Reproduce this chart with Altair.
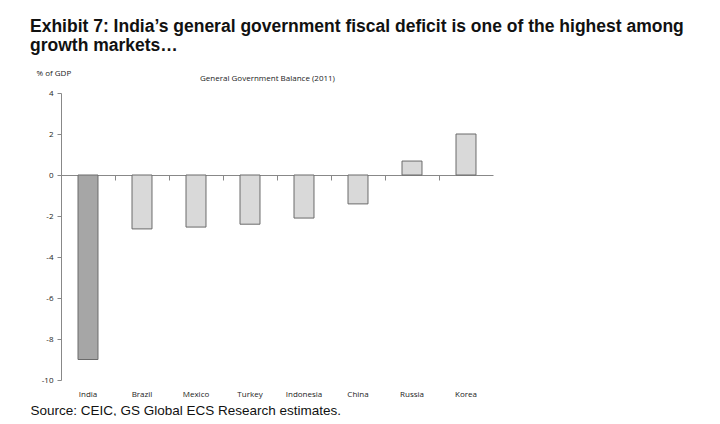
import altair as alt
import pandas as pd

categories = ["India", "Brazil", "Mexico", "Turkey", "Indonesia", "China", "Russia", "Korea"]
values = [-9.0, -2.63, -2.54, -2.4, -2.1, -1.41, 0.68, 2.0]
highlight = ["India"]

df = pd.DataFrame({"country": categories, "value": values})
df["hl"] = df["country"].isin(highlight)

W, H = 432, 287
small_font = "Open Sans"

xscale = alt.Scale(domain=categories, paddingInner=0, paddingOuter=0)
yscale = alt.Scale(domain=[-10, 4], nice=False, zero=False)

bars = alt.Chart(df).mark_bar(
    width=alt.RelativeBandSize(0.37), stroke="#6b6b6b", strokeWidth=1
).encode(
    x=alt.X("country:N", sort=categories, scale=xscale,
            axis=alt.Axis(domain=False, ticks=False, labelAngle=0, labelFont=small_font,
                          labelFontSize=8, labelColor="#222", labelPadding=10,
                          title="Source: CEIC, GS Global ECS Research estimates.",
                          titleFont="Liberation Sans", titleFontSize=13.5, titleFontWeight="normal",
                          titleColor="#111", titleAnchor="start", titleAlign="left",
                          titleX=-31, titleY=34, titleBaseline="alphabetic")),
    y=alt.Y("value:Q", scale=yscale,
            axis=alt.Axis(values=list(range(-10, 5, 2)), grid=False, tickSize=4,
                          tickColor="#888", domainColor="#888", labelFont=small_font,
                          labelFontSize=8, labelColor="#222", labelPadding=4,
                          labelExpr="'' + datum.value",
                          title="% of GDP", titleAngle=0, titleFont=small_font,
                          titleFontSize=8, titleFontWeight="normal", titleColor="#222",
                          titleX=-25, titleY=-20, titleAlign="left", titleBaseline="middle")),
    color=alt.condition("datum.hl", alt.value("#a6a6a6"), alt.value("#d9d9d9")),
)

zero_axis = alt.Chart(df).mark_point(opacity=0).encode(
    x=alt.X("country:N", sort=categories, scale=xscale,
            axis=alt.Axis(orient="bottom", offset=-205, domain=True, domainColor="#888",
                          ticks=True, tickColor="#888", tickSize=5, bandPosition=0,
                          labels=False,
                          title="General Government Balance (2011)", titleFont=small_font,
                          titleFontSize=8, titleFontWeight="normal", titleColor="#222",
                          titleX=206, titleY=-97, titleAlign="center", titleBaseline="middle")),
    y=alt.Y("value:Q", scale=yscale),
)

chart = alt.layer(bars, zero_axis).resolve_axis(x="independent").properties(
    width=W, height=H,
    background="white",
    autosize=alt.AutoSizeParams(type="none"),
    padding={"left": 53, "top": 85, "right": 219, "bottom": 36},
    title=alt.Title(
        text=["Exhibit 7: India\u2019s general government fiscal deficit is one of the highest among",
              "growth markets\u2026"],
        anchor="start", frame="group", dx=-31, offset=15,
        font="Liberation Sans", fontSize=17.5, fontWeight="bold", color="#111", lineHeight=18.5,
    ),
).configure_view(strokeWidth=0, stroke="transparent")

chart.save("out.html", embed_options={"renderer": "svg", "actions": False})
